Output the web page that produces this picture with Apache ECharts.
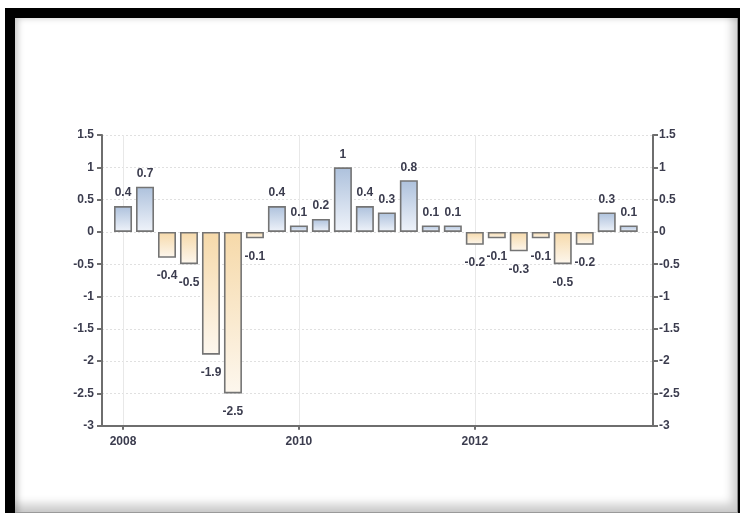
<!DOCTYPE html>
<html>
<head>
<meta charset="utf-8">
<script src="https://cdn.jsdelivr.net/npm/echarts@6/dist/echarts.min.js"></script>
<style>
  html, body { margin: 0; padding: 0; width: 740px; height: 515px; overflow: hidden; background: #fff; }
  #frame { position: absolute; left: 5px; top: 8px; width: 735px; height: 505px; background: #000; }
  #panel {
    position: absolute; left: 15px; top: 18px; width: 722px; height: 494px; background: #fff;
    border-right: 1px solid #8a8a8a; border-bottom: 1px solid #9a9a9a;
    box-shadow: inset 5px 2px 6px -2px rgba(0,0,0,0.22), inset -9px -12px 10px -4px rgba(0,0,0,0.2);
  }
  #chart { position: absolute; left: 0; top: 0; width: 740px; height: 515px; }
</style>
</head>
<body>
<div id="frame"></div>
<div id="panel"></div>
<div id="chart"></div>
<script>
// Quarterly GDP growth rate, percent
const quarters = [
  '2008Q1', '2008Q2', '2008Q3', '2008Q4',
  '2009Q1', '2009Q2', '2009Q3', '2009Q4',
  '2010Q1', '2010Q2', '2010Q3', '2010Q4',
  '2011Q1', '2011Q2', '2011Q3', '2011Q4',
  '2012Q1', '2012Q2', '2012Q3', '2012Q4',
  '2013Q1', '2013Q2', '2013Q3', '2013Q4'
];
const growth = [
  0.4, 0.7, -0.4, -0.5,
  -1.9, -2.5, -0.1, 0.4,
  0.1, 0.2, 1, 0.4,
  0.3, 0.8, 0.1, 0.1,
  -0.2, -0.1, -0.3, -0.1,
  -0.5, -0.2, 0.3, 0.1
];
const yearTicks = [2008, 2010, 2012];

// quarter label -> fractional year on the time scale
function quarterPos(q) {
  return Number(q.slice(0, 4)) + (Number(q.slice(5)) - 1) / 4;
}

const labelFont = '"Liberation Sans", Arial, sans-serif';
const textColor = '#3b3c4e';

const upFill = {
  type: 'linear', x: 0, y: 0, x2: 0, y2: 1,
  colorStops: [{ offset: 0, color: '#adc1dc' }, { offset: 1, color: '#eff3fa' }]
};
const downFill = {
  type: 'linear', x: 0, y: 0, x2: 0, y2: 1,
  colorStops: [{ offset: 0, color: '#f6d9a9' }, { offset: 1, color: '#fdf7ee' }]
};

const barData = quarters.map((q, i) => {
  const v = growth[i];
  const up = v >= 0;
  return {
    value: [quarterPos(q), v],
    itemStyle: { color: up ? upFill : downFill },
    label: { position: up ? 'top' : 'bottom', distance: up ? 7 : 12 }
  };
});

const valueAxisCommon = {
  type: 'value',
  min: -3,
  max: 1.5,
  interval: 0.5,
  axisLine: { show: true, onZero: false, lineStyle: { color: '#6e6e6e', width: 2 } },
  axisTick: { show: true, length: 5, lineStyle: { color: '#6e6e6e', width: 2 } },
  axisLabel: {
    color: textColor, fontFamily: labelFont, fontWeight: 'bold', fontSize: 12, margin: 8
  }
};

const chart = echarts.init(document.getElementById('chart'), null, { renderer: 'canvas' });
chart.setOption({
  backgroundColor: 'transparent',
  animation: false,
  grid: { left: 102, right: 87, top: 135, bottom: 89.3, containLabel: false },
  xAxis: {
    type: 'value',
    min: 2007.761,
    max: 2014.026,
    axisLine: { show: true, onZero: false, lineStyle: { color: '#6e6e6e', width: 2 } },
    axisTick: { show: true, length: 4, customValues: yearTicks, lineStyle: { color: '#6e6e6e', width: 2 } },
    axisLabel: {
      customValues: yearTicks,
      formatter: v => String(v),
      color: textColor, fontFamily: labelFont, fontWeight: 'bold', fontSize: 12, margin: 10
    },
    splitLine: { show: true, lineStyle: { color: '#e8e8e8', width: 1 } }
  },
  yAxis: [
    Object.assign({}, valueAxisCommon, {
      position: 'left',
      splitLine: { show: true, lineStyle: { color: '#e0e0e0', width: 1, type: [2, 2] } }
    }),
    Object.assign({}, valueAxisCommon, {
      position: 'right',
      axisLabel: Object.assign({}, valueAxisCommon.axisLabel, { margin: 6 }),
      splitLine: { show: false }
    })
  ],
  series: [{
    type: 'bar',
    yAxisIndex: 0,
    barWidth: 18,
    data: barData,
    itemStyle: { borderColor: '#747474', borderWidth: 1.6 },
    label: {
      show: true,
      formatter: p => String(p.value[1]),
      color: textColor,
      fontFamily: labelFont,
      fontWeight: 'bold',
      fontSize: 12
    }
  }]
});
</script>
</body>
</html>
